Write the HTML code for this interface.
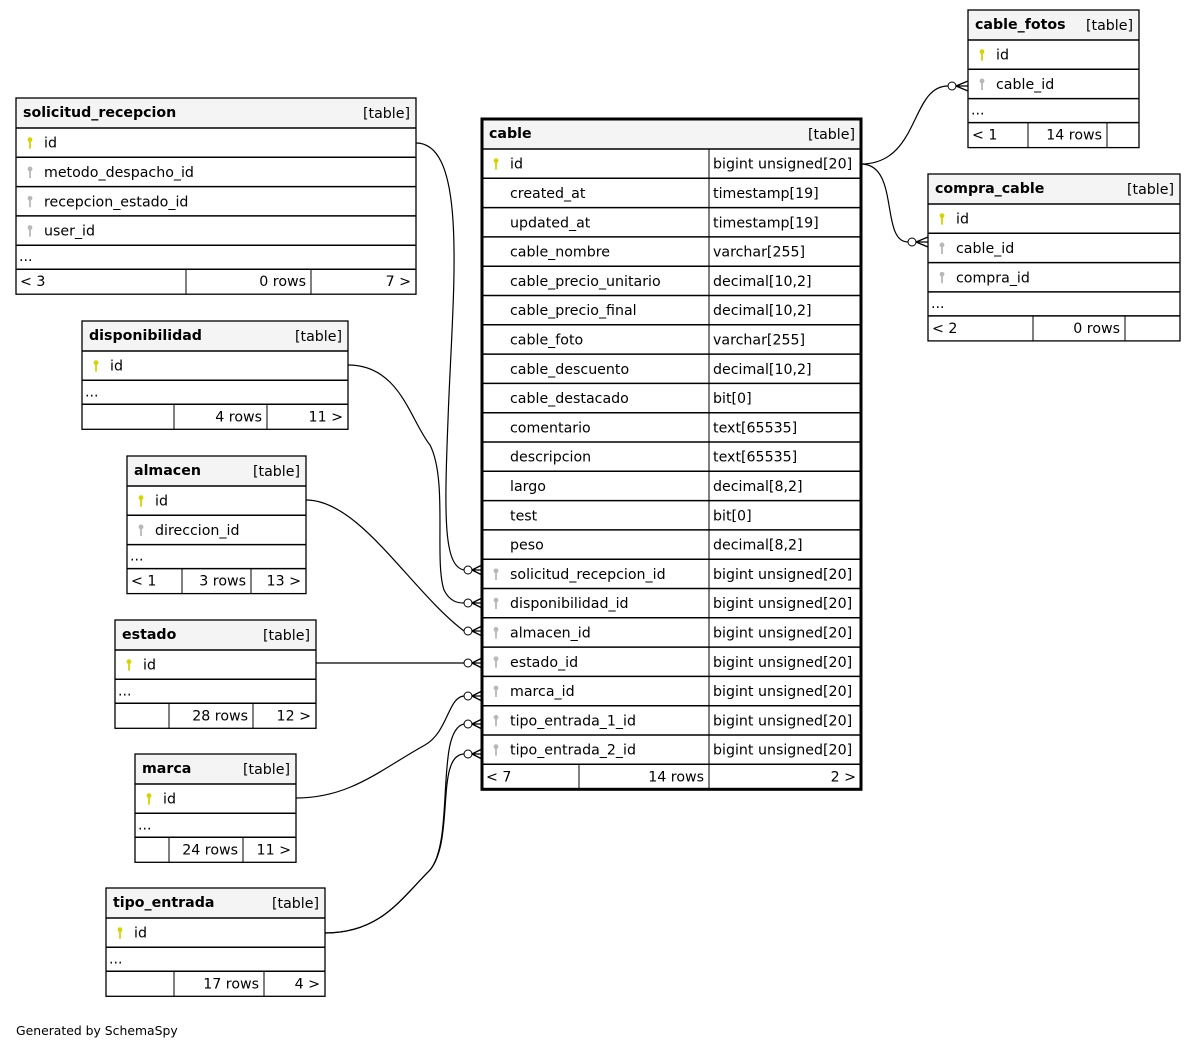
<!DOCTYPE html>
<html><head><meta charset="utf-8"><style>
html,body{margin:0;padding:0;background:#fff;width:1196px;height:1051px;overflow:hidden}
svg text{font-family:"DejaVu Sans","Liberation Sans",sans-serif;font-size:14.2px;fill:#000}
svg text.ft{font-size:12.4px}
</style></head><body>
<svg id="s" width="1196" height="1051" xmlns="http://www.w3.org/2000/svg"></svg>
<script>
var o='';
function key(x,y,pk){var c=pk?'#d4d400':'#b8b8b8';o+='<circle cx="'+x+'" cy="'+(y-4)+'" r="2.4" fill="'+c+'"/><rect x="'+(x-0.9)+'" y="'+(y-3)+'" width="1.8" height="8" fill="'+c+'"/>';}
function T(x,txt,y,anchor,bold){o+='<text x="'+x+'" y="'+y+'"'+(anchor?' text-anchor="'+anchor+'"':'')+(bold?' font-weight="bold"':'')+'>'+txt+'</text>';}
function table(name,x1,x2,y,rows,foot,fdiv,coldiv,thick){
 var hh=30,rh=29.3,top=y;
 o+='<rect x="'+x1+'" y="'+y+'" width="'+(x2-x1)+'" height="'+hh+'" fill="#f4f4f4"/>';
 T(x1+7,name,y+19,null,true);T(x2-6,'[table]',y+20,'end');
 y+=hh;
 o+='<line x1="'+x1+'" x2="'+x2+'" y1="'+y+'" y2="'+y+'" stroke="#000" stroke-width="1.5"/>';
 rows.forEach(function(r){
  if(r[2])key(x1+14,y+rh/2+1,r[2]=='p');
  T(x1+28,r[0],y+rh/2+5);
  if(r[1]!==undefined&&coldiv){T(coldiv+4,r[1],y+rh/2+5);}
  y+=rh;o+='<line x1="'+x1+'" x2="'+x2+'" y1="'+y+'" y2="'+y+'" stroke="#000" stroke-width="1.5"/>';
 });
 if(coldiv)o+='<line x1="'+coldiv+'" x2="'+coldiv+'" y1="'+(top+hh)+'" y2="'+y+'" stroke="#000" stroke-width="1"/>';
 if(!foot[3]){T(x1+3,'...',y+16);y+=24;o+='<line x1="'+x1+'" x2="'+x2+'" y1="'+y+'" y2="'+y+'" stroke="#000" stroke-width="1.5"/>';}
 var fh=25;
 T(x1+4,foot[0],y+17);T(fdiv[1]-5,foot[1],y+17,'end');T(x2-5,foot[2],y+17,'end');
 o+='<line x1="'+fdiv[0]+'" x2="'+fdiv[0]+'" y1="'+y+'" y2="'+(y+fh)+'" stroke="#000"/><line x1="'+fdiv[1]+'" x2="'+fdiv[1]+'" y1="'+y+'" y2="'+(y+fh)+'" stroke="#000"/>';
 y+=fh;
 o+='<rect x="'+x1+'" y="'+top+'" width="'+(x2-x1)+'" height="'+(y-top)+'" fill="none" stroke="#000" stroke-width="'+(thick?3:1.3)+'"/>';
}
function crow(cx,y,edge){o+='<circle cx="'+cx+'" cy="'+y+'" r="4" fill="#fff" stroke="#000"/>';
 o+='<path d="M'+(cx+4)+','+y+' L'+edge+','+(y-5)+' M'+(cx+4)+','+y+' L'+edge+','+y+' M'+(cx+4)+','+y+' L'+edge+','+(y+5)+'" stroke="#000" stroke-width="1.3" fill="none"/>';}
function P(d){o+='<path d="'+d+'" fill="none" stroke="#000" stroke-width="1.2"/>';}

P('M416,143 C470,143 452,300 448,420 C444,520 444,566 464,570');crow(468,570,482);
P('M348,365 C400,365 410,420 430,445 C448,480 434,560 444,590 C450,602 458,603 464,603');crow(468,603,482);
P('M306,500 C360,500 410,590 464,631');crow(468,631,482);
P('M316,663 L464,663');crow(468,663,482);
P('M296,798 C350,798 380,770 425,745 C448,732 448,697 464,696');crow(468,696,482);
P('M325,933 C380,933 400,900 430,870 C455,840 435,730 464,724');crow(468,724,482);
P('M325,933 C380,933 400,900 430,870 C455,840 435,755 464,754');crow(468,754,482);
P('M861,164 C920,164 910,86 948,86');crow(952,86,968);
P('M861,164 C900,164 880,242 908,242');crow(912,242,928);

var P2='bigint unsigned[20]';
table('cable',482,861,119,[['id',P2,'p'],['created_at','timestamp[19]'],['updated_at','timestamp[19]'],['cable_nombre','varchar[255]'],['cable_precio_unitario','decimal[10,2]'],['cable_precio_final','decimal[10,2]'],['cable_foto','varchar[255]'],['cable_descuento','decimal[10,2]'],['cable_destacado','bit[0]'],['comentario','text[65535]'],['descripcion','text[65535]'],['largo','decimal[8,2]'],['test','bit[0]'],['peso','decimal[8,2]'],['solicitud_recepcion_id',P2,'f'],['disponibilidad_id',P2,'f'],['almacen_id',P2,'f'],['estado_id',P2,'f'],['marca_id',P2,'f'],['tipo_entrada_1_id',P2,'f'],['tipo_entrada_2_id',P2,'f']],['&lt; 7','14 rows','2 &gt;',1],[579,709],709,true);
table('solicitud_recepcion',16,416,98,[['id',,'p'],['metodo_despacho_id',,'f'],['recepcion_estado_id',,'f'],['user_id',,'f']],['&lt; 3','0 rows','7 &gt;'],[186,311]);
table('disponibilidad',82,348,321,[['id',,'p']],['','4 rows','11 &gt;'],[174,267]);
table('almacen',127,306,456,[['id',,'p'],['direccion_id',,'f']],['&lt; 1','3 rows','13 &gt;'],[182,251]);
table('estado',115,316,620,[['id',,'p']],['','28 rows','12 &gt;'],[169,253]);
table('marca',135,296,754,[['id',,'p']],['','24 rows','11 &gt;'],[169,243]);
table('tipo_entrada',106,325,888,[['id',,'p']],['','17 rows','4 &gt;'],[174,264]);
table('cable_fotos',968,1139,10,[['id',,'p'],['cable_id',,'f']],['&lt; 1','14 rows',''],[1028,1107]);
table('compra_cable',928,1180,174,[['id',,'p'],['cable_id',,'f'],['compra_id',,'f']],['&lt; 2','0 rows',''],[1033,1125]);
o+='<text class="ft" x="16" y="1035">Generated by SchemaSpy</text>';
document.getElementById('s').innerHTML=o;
</script>
</body></html>
